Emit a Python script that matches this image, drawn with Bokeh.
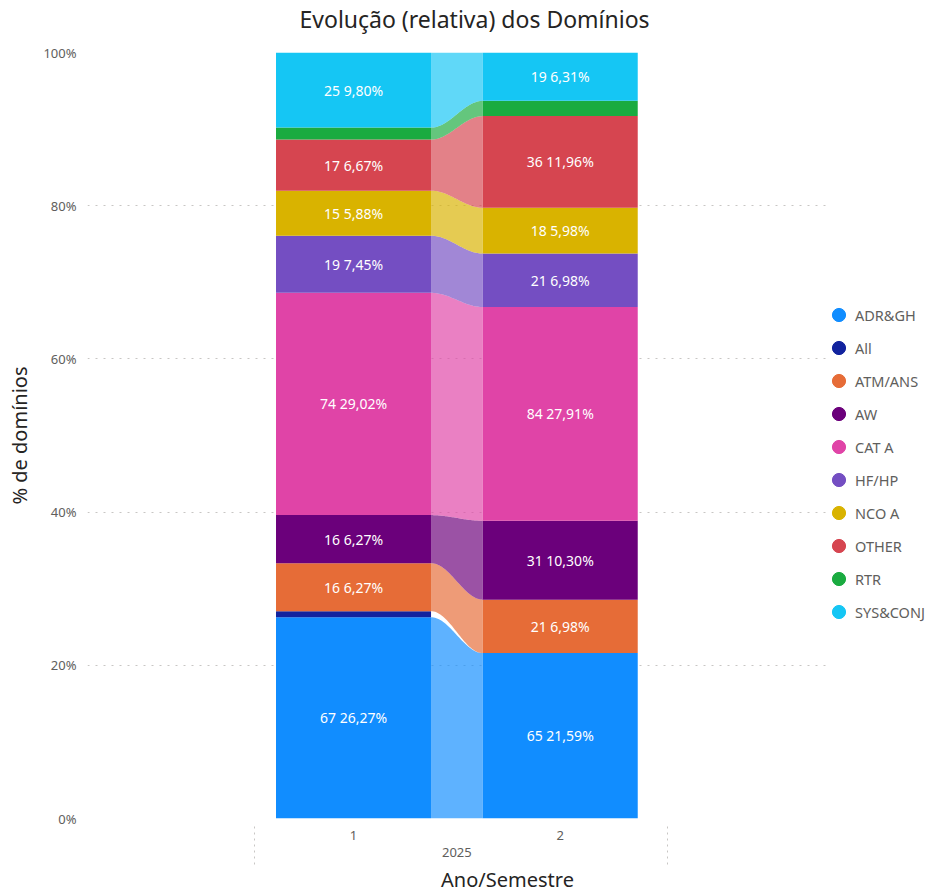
import math
from bokeh.plotting import figure
from bokeh.models import ColumnDataSource, Range1d, FixedTicker, LinearAxis, Legend, LegendItem
from bokeh.embed import file_html
from bokeh.resources import INLINE
from bokeh.core.properties import value

# ---- data ----
categories = ["ADR&GH", "All", "ATM/ANS", "AW", "CAT A", "HF/HP", "NCO A", "OTHER", "RTR", "SYS&CONJ"]
semesters = ["1", "2"]
year = "2025"
counts_s1 = [67, 2, 16, 16, 74, 19, 15, 17, 4, 25]
counts_s2 = [65, 0, 21, 31, 84, 21, 18, 36, 6, 19]
colors = ["#118DFF", "#12239E", "#E66C37", "#6B007B", "#E044A7",
          "#744EC2", "#D9B300", "#D64550", "#1AAB40", "#15C6F4"]
y_ticks = [0, 20, 40, 60, 80, 100]

FONT = "Noto Sans"
GREY = "#605E5C"
DARK = "#252423"

series = [counts_s1, counts_s2]
xpos = [i + 1 for i in range(len(semesters))]
bar_w = 0.75

# compute stacked percentages
stack = []
for counts in series:
    tot = sum(counts)
    pct = [c / tot * 100 for c in counts]
    bottoms, tops = [], []
    acc = 0.0
    for v in pct:
        bottoms.append(acc)
        acc += v
        tops.append(acc)
    stack.append((counts, pct, bottoms, tops))

W, H = 927, 895
LEFT, TOP, BOTTOM = 87, 52, 75
PX_PER_UNIT = 206.7
x_start = 1.5 - 1.787
grid_end = 1.5 + 1.787
x_end = x_start + (W - LEFT) / PX_PER_UNIT
mid = sum(xpos) / len(xpos)

p = figure(width=W, height=H, output_backend="svg", toolbar_location=None,
           x_range=Range1d(x_start, x_end), y_range=Range1d(0, 100),
           x_axis_location=None, y_axis_location="left",
           min_border_left=LEFT, min_border_right=0, min_border_top=TOP, min_border_bottom=BOTTOM,
           title="Evolução (relativa) dos Domínios")
p.outline_line_color = None
p.background_fill_color = "white"
p.border_fill_color = "white"

p.title.align = "left"
p.title.text_font = FONT
p.title.text_font_size = "23px"
p.title.text_font_style = "normal"
p.title.text_color = DARK
p.title.offset = 212
p.title.standoff = 0

# spacer between title and plot area
sp = LinearAxis(ticker=FixedTicker(ticks=[mid], minor_ticks=[]))
sp.major_label_overrides = {mid: ""}
sp.major_label_text_font_size = "1px"
sp.axis_line_color = None
sp.major_tick_line_color = None
sp.minor_tick_line_color = None
sp.major_tick_out = 18
sp.major_tick_in = 0
sp.minor_tick_out = 0
sp.minor_tick_in = 0
sp.major_label_standoff = 0
p.add_layout(sp, "above")

# grids
p.xgrid.visible = False
p.ygrid.ticker = FixedTicker(ticks=y_ticks)
p.ygrid.grid_line_color = "#C8C6C4"
p.ygrid.grid_line_dash = "2 6"
p.ygrid.grid_line_width = 1
try:
    p.ygrid.cross_bounds = (x_start, grid_end)
except Exception:
    pass

# y axis
ya = p.yaxis[0]
ya.ticker = FixedTicker(ticks=y_ticks)
ya.major_label_overrides = {t: f"{t}%" for t in y_ticks}
ya.axis_line_color = None
ya.major_tick_line_color = None
ya.minor_tick_line_color = None
ya.major_tick_out = 0
ya.major_tick_in = 0
ya.minor_tick_out = 0
ya.minor_tick_in = 0
ya.major_label_standoff = 11
ya.major_label_text_font = FONT
ya.major_label_text_font_size = "13px"
ya.major_label_text_color = GREY
ya.axis_label = "% de domínios"
ya.axis_label_text_font = FONT
ya.axis_label_text_font_size = "20px"
ya.axis_label_text_font_style = "normal"
ya.axis_label_text_color = DARK
ya.axis_label_standoff = 7

# x axes (semester + year)
xa = LinearAxis(ticker=FixedTicker(ticks=xpos, minor_ticks=[xpos[0] - 0.48, xpos[-1] + 0.52]))
xa.major_label_overrides = {x: s for x, s in zip(xpos, semesters)}
xa.axis_line_color = None
xa.major_tick_line_color = None
xa.major_tick_out = 0
xa.major_tick_in = 0
xa.minor_tick_line_color = "#C8C6C4"
xa.minor_tick_line_dash = "2 4"
xa.minor_tick_in = -8
xa.minor_tick_out = 46
xa.major_label_standoff = -34
xa.major_label_text_font = FONT
xa.major_label_text_font_size = "13px"
xa.major_label_text_color = GREY
p.add_layout(xa, "below")

xb = LinearAxis(ticker=FixedTicker(ticks=[mid], minor_ticks=[]))
xb.major_label_overrides = {mid: year}
xb.axis_line_color = None
xb.major_tick_line_color = None
xb.major_tick_out = 0
xb.major_tick_in = 0
xb.minor_tick_line_color = None
xb.minor_tick_out = 0
xb.minor_tick_in = 0
xb.major_label_standoff = 5
xb.major_label_text_font = FONT
xb.major_label_text_font_size = "13px"
xb.major_label_text_color = GREY
xb.axis_label = "Ano/Semestre"
xb.axis_label_text_font = FONT
xb.axis_label_text_font_size = "20px"
xb.axis_label_text_font_style = "normal"
xb.axis_label_text_color = DARK
xb.axis_label_standoff = 6
p.add_layout(xb, "below")

# ribbons between columns
xl = xpos[0] + bar_w / 2
xr = xpos[1] - bar_w / 2
N = 40
ts = [i / (N - 1) for i in range(N)]
ease = [(1 - math.cos(math.pi * t)) / 2 for t in ts]
rx, ry, rc = [], [], []
for i in range(len(categories)):
    if series[0][i] == 0 or series[1][i] == 0:
        continue
    b1, t1 = stack[0][2][i], stack[0][3][i]
    b2, t2 = stack[1][2][i], stack[1][3][i]
    xs_top = [xl + (xr - xl) * t for t in ts]
    ys_top = [t1 + (t2 - t1) * e for e in ease]
    xs_bot = xs_top[::-1]
    ys_bot = [b1 + (b2 - b1) * e for e in ease][::-1]
    rx.append(xs_top + xs_bot)
    ry.append(ys_top + ys_bot)
    rc.append(colors[i])
p.patches(xs=rx, ys=ry, fill_color=rc, fill_alpha=0.68, line_color=None)

# bars
bx, bb, bt, bc = [], [], [], []
lx, ly, lt = [], [], []
for k, (counts, pct, bottoms, tops) in enumerate(stack):
    for i in range(len(categories)):
        if counts[i] == 0:
            continue
        bx.append(xpos[k]); bb.append(bottoms[i]); bt.append(tops[i]); bc.append(colors[i])
        if pct[i] >= 3:
            lx.append(xpos[k]); ly.append((bottoms[i] + tops[i]) / 2)
            lt.append(f"{counts[i]} {pct[i]:.2f}%".replace(".", ","))
p.vbar(source=ColumnDataSource(dict(x=bx, bottom=bb, top=bt, color=bc)),
       x="x", bottom="bottom", top="top", width=bar_w, fill_color="color", line_color=None)

p.text(source=ColumnDataSource(dict(x=lx, y=ly, t=lt)), x="x", y="y", text="t",
       text_align="center", text_baseline="middle", text_color="white",
       text_font=value(FONT), text_font_size="14px")

# legend with circle markers
items = []
for name, c in zip(categories, colors):
    r = p.scatter(x=[float("nan")], y=[float("nan")], marker="circle", size=15,
                  fill_color=c, line_color=c)
    items.append(LegendItem(label=name, renderers=[r]))
legend = Legend(items=items, location=(822 - LEFT, 190))
legend.border_line_color = None
legend.background_fill_alpha = 0
legend.label_text_font = FONT
legend.label_text_font_size = "14.5px"
legend.label_text_color = GREY
legend.glyph_width = 33
legend.glyph_height = 33
legend.label_height = 33
legend.label_standoff = -6
legend.spacing = 0
legend.padding = 0
legend.margin = 0
p.add_layout(legend)

open("out.html", "w").write(file_html(p, INLINE))
